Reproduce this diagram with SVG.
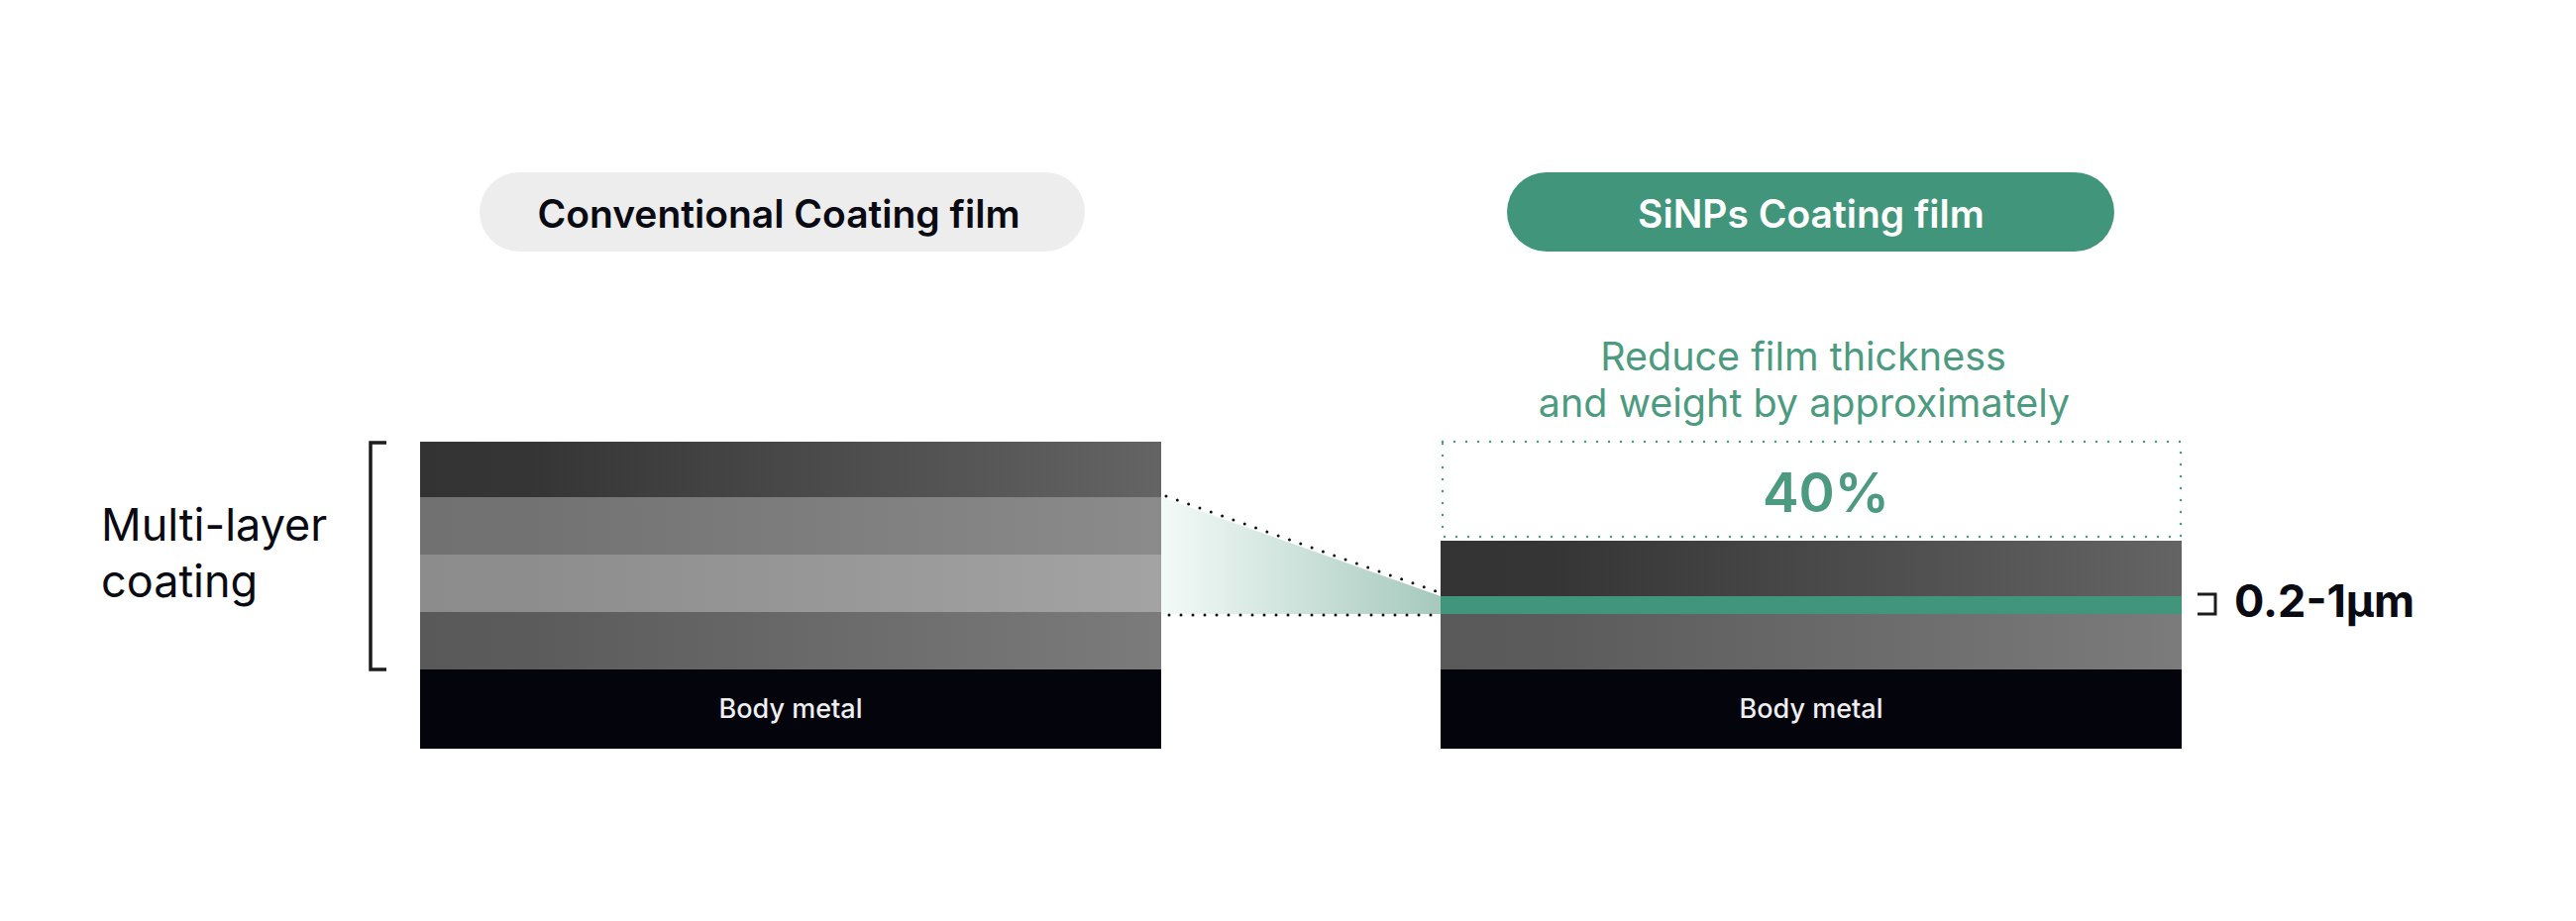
<svg xmlns="http://www.w3.org/2000/svg" width="2600" height="930" viewBox="0 0 2600 930">
  <defs>
    <style>
      text { font-family: Inter, "Noto Sans", "Liberation Sans", sans-serif; }
      .pill-label { font-size: 39px; font-weight: 600; text-anchor: middle; }
      .body-label { font-size: 27px; font-weight: 500; fill: #efeff1; text-anchor: middle; }
      .green-text { fill: #4c9b80; text-anchor: middle; }
      .dot-black { fill: none; stroke: #111111; stroke-width: 3; stroke-linecap: round; stroke-dasharray: 0 12; }
      .dot-green { fill: none; stroke: #4c9b80; stroke-width: 2.5; stroke-linecap: round; stroke-dasharray: 0 12; }
      .bracket { fill: none; stroke: #1c1c1c; stroke-width: 3.5; }
    </style>
    <linearGradient id="gDark" x1="0" y1="0" x2="1" y2="0">
      <stop offset="0" stop-color="#333333"/>
      <stop offset="0.15" stop-color="#353535"/>
      <stop offset="1" stop-color="#646464"/>
    </linearGradient>
    <linearGradient id="gMid" x1="0" y1="0" x2="1" y2="0">
      <stop offset="0" stop-color="#717171"/>
      <stop offset="0.15" stop-color="#727272"/>
      <stop offset="1" stop-color="#8b8b8b"/>
    </linearGradient>
    <linearGradient id="gLight" x1="0" y1="0" x2="1" y2="0">
      <stop offset="0" stop-color="#8c8c8c"/>
      <stop offset="0.15" stop-color="#8d8d8d"/>
      <stop offset="1" stop-color="#a3a3a3"/>
    </linearGradient>
    <linearGradient id="gLow" x1="0" y1="0" x2="1" y2="0">
      <stop offset="0" stop-color="#595959"/>
      <stop offset="0.15" stop-color="#5b5b5b"/>
      <stop offset="1" stop-color="#7b7b7b"/>
    </linearGradient>
    <linearGradient id="gZoom" x1="0" y1="0" x2="1" y2="0">
      <stop offset="0" stop-color="#f3faf8"/>
      <stop offset="1" stop-color="#a6c9bc"/>
    </linearGradient>
  </defs>

  <rect width="2600" height="930" fill="#ffffff"/>

  <g id="pill-conventional">
    <rect x="484" y="174" width="611" height="80" rx="40" fill="#ededed"/>
    <text class="pill-label" x="786" y="230" fill="#0a0a12">Conventional Coating film</text>
  </g>

  <g id="pill-sinps">
    <rect x="1521" y="174" width="613" height="80" rx="40" fill="#41957a"/>
    <text class="pill-label" x="1828" y="230" fill="#ffffff">SiNPs Coating film</text>
  </g>

  <g id="label-multilayer">
    <text x="102" y="546" font-size="45" fill="#0a0a12">Multi-layer</text>
    <text x="102" y="603" font-size="45" fill="#0a0a12">coating</text>
    <path class="bracket" d="M390,447 H374 V676 H390"/>
  </g>

  <g id="stack-conventional">
    <rect x="424" y="446" width="748" height="57" fill="url(#gDark)"/>
    <rect x="424" y="502" width="748" height="59" fill="url(#gMid)"/>
    <rect x="424" y="560" width="748" height="59" fill="url(#gLight)"/>
    <rect x="424" y="618" width="748" height="59" fill="url(#gLow)"/>
    <rect x="424" y="676" width="748" height="80" fill="#03040c"/>
    <text class="body-label" x="798" y="725">Body metal</text>
  </g>

  <g id="connectors">
    <polygon points="1172,502 1454,602 1454,620 1172,620" fill="url(#gZoom)"/>
    <line class="dot-black" x1="1177" y1="501" x2="1449" y2="597"/>
    <line class="dot-black" x1="1180" y1="621" x2="1446" y2="621"/>
  </g>

  <g id="reduction-callout">
    <text class="green-text" x="1820" y="374" font-size="39.5">Reduce film thickness</text>
    <text class="green-text" x="1821" y="421" font-size="39.5">and weight by approximately</text>
    <rect class="dot-green" x="1456" y="446" width="745" height="96"/>
    <text class="green-text" x="1843" y="517" font-size="55" font-weight="600">40%</text>
  </g>

  <g id="stack-sinps">
    <rect x="1454" y="546" width="748" height="57" fill="url(#gDark)"/>
    <rect x="1454" y="602" width="748" height="18" fill="#41957a"/>
    <rect x="1454" y="620" width="748" height="57" fill="url(#gLow)"/>
    <rect x="1454" y="676" width="748" height="80" fill="#03040c"/>
    <text class="body-label" x="1828" y="725">Body metal</text>
  </g>

  <g id="label-thickness">
    <path d="M2218,600 H2236 V620 H2218" fill="none" stroke="#1c1c1c" stroke-width="3"/>
    <text x="2255" y="623" font-size="45" font-weight="700" fill="#0a0a12">0.2-1μm</text>
  </g>
</svg>
